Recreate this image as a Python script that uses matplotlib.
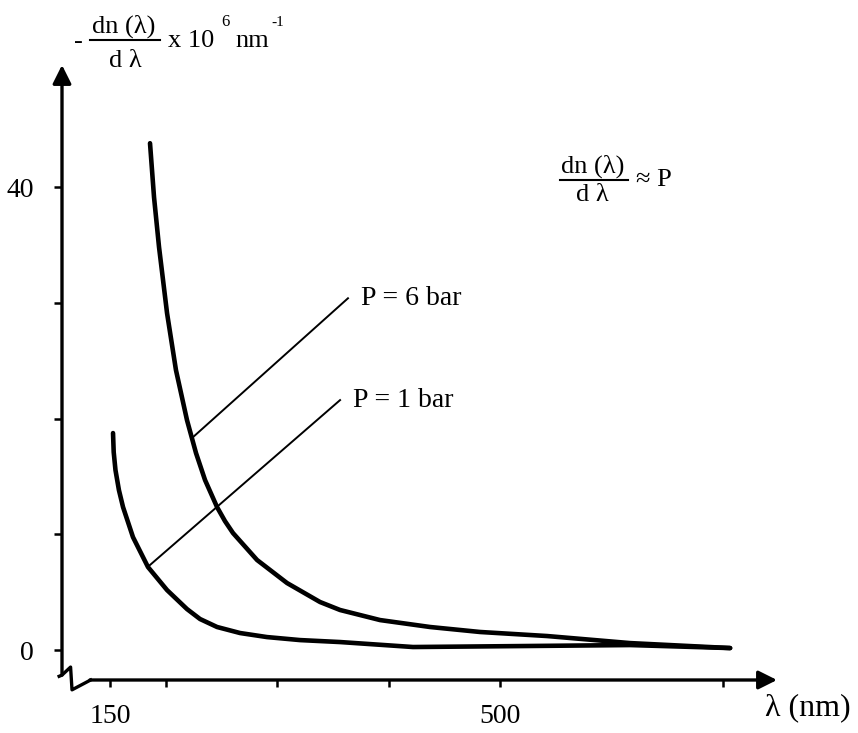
"""Dispersion dn/dlambda vs wavelength for two pressures (scan recreation)."""

import matplotlib

matplotlib.use("Agg")
import matplotlib.pyplot as plt

# wavelength (nm) and -dn/dlambda x 1e6 (nm^-1)
wl_6bar = [185.9, 189.5, 194.0, 201.2, 209.2, 219.1, 227.2, 235.3, 246.1,
           253.2, 260.4, 282.0, 308.9, 338.5, 356.5, 392.4, 437.3, 482.1,
           542.3, 616.8, 706.6]
dn_6bar = [43.80, 39.14, 34.82, 29.11, 24.19, 19.87, 17.02, 14.69, 12.35,
           11.14, 10.11, 7.78, 5.79, 4.15, 3.46, 2.59, 1.99, 1.56, 1.21,
           0.60, 0.17]

wl_1bar = [152.7, 153.3, 154.9, 158.0, 161.7, 170.6, 184.1, 201.2, 219.1,
           230.8, 246.1, 266.7, 290.9, 320.6, 356.5, 422.0, 527.0, 616.8,
           706.6]
dn_1bar = [18.75, 17.11, 15.55, 13.82, 12.35, 9.76, 7.17, 5.18, 3.54, 2.68,
           1.99, 1.47, 1.12, 0.86, 0.69, 0.26, 0.35, 0.43, 0.17]

x_ticks = [150, 200, 300, 400, 500, 700]
x_ticklabels = ["150", "", "", "", "500", ""]
y_ticks = [0, 10, 20, 30, 40]
y_ticklabels = ["0", "", "", "", "40"]

# leader lines: point on curve -> label anchor
label_6bar = "P = 6 bar"
label_1bar = "P = 1 bar"
leader_6bar = [(224.5, 18.4), (363.6, 30.4)]
leader_1bar = [(184.1, 7.2), (356.5, 21.6)]

W, H = 858, 733
SERIF = ["Liberation Serif", "DejaVu Serif"]
plt.rcParams["font.family"] = SERIF


def fpx(x, y):
    """pixel position (from top-left) -> figure fraction"""
    return x / W, 1 - y / H


fig = plt.figure(figsize=(W / 100, H / 100), dpi=100)
ax = fig.add_axes([62 / W, 53 / H, 715 / W, 615 / H])
ax.set_xlim(106.9, 748.7)
ax.set_ylim(-2.59, 50.56)
for s in ax.spines.values():
    s.set_visible(False)

curve_kw = dict(color="black", lw=3.3, solid_capstyle="round",
                solid_joinstyle="round")
ax.plot(wl_6bar, dn_6bar, **curve_kw)
ax.plot(wl_1bar, dn_1bar, **curve_kw)

for (p0, p1), lab in ((leader_6bar, label_6bar), (leader_1bar, label_1bar)):
    ax.plot([p0[0], p1[0]], [p0[1], p1[1]], color="black", lw=1.4)
    ax.text(p1[0] + 12, p1[1], lab, fontsize=20, va="center", ha="left")

# axes with arrows and the break at the origin
ax.annotate("", xy=(0, 1), xytext=(0, 0.008), xycoords="axes fraction",
            arrowprops=dict(arrowstyle="-|>", lw=2.4, color="black",
                            mutation_scale=28, shrinkA=0, shrinkB=0))
ax.annotate("", xy=(1, 0), xytext=(0.039, 0.0), xycoords="axes fraction",
            arrowprops=dict(arrowstyle="-|>", lw=2.4, color="black",
                            mutation_scale=28, shrinkA=0, shrinkB=0))
ax.plot([-0.004, 0.0, 0.012, 0.014, 0.040], [0.006, 0.008, 0.021, -0.016, 0.0],
        transform=ax.transAxes, color="black", lw=2.4, clip_on=False)

ax.set_xticks(x_ticks)
ax.set_xticklabels(x_ticklabels)
ax.set_yticks(y_ticks)
ax.set_yticklabels(y_ticklabels)
ax.tick_params(axis="both", direction="out", width=1.8, labelsize=20)
ax.tick_params(axis="y", length=6, pad=14)
ax.tick_params(axis="x", length=5, pad=12)

# y axis label drawn as a stacked fraction
fig.text(*fpx(78, 42), "-", fontsize=19, ha="center", va="center")
fig.text(*fpx(124, 26), "dn (λ)", fontsize=19, ha="center", va="center")
fig.add_artist(plt.Line2D([90 / W, 160 / W], [1 - 40 / H, 1 - 40 / H],
                          color="black", lw=1.5))
fig.text(*fpx(125, 61), "d λ", fontsize=19, ha="center", va="center")
fig.text(*fpx(168, 47), "x 10", fontsize=19, ha="left", va="baseline")
fig.text(*fpx(221, 26), "6", fontsize=12, ha="left", va="baseline")
fig.text(*fpx(235, 47), "nm", fontsize=19, ha="left", va="baseline")
fig.text(*fpx(271, 26), "-1", fontsize=11, ha="left", va="baseline")

# relation in the top right
fig.text(*fpx(593, 166), "dn (λ)", fontsize=19, ha="center", va="center")
fig.add_artist(plt.Line2D([560 / W, 628 / W], [1 - 180 / H, 1 - 180 / H],
                          color="black", lw=1.5))
fig.text(*fpx(592, 195), "d λ", fontsize=19, ha="center", va="center")
fig.text(*fpx(636, 180), "≈ P", fontsize=19, ha="left", va="center")

fig.text(*fpx(765, 708), "λ (nm)", fontsize=23, ha="left", va="center")

fig.savefig("out.png", dpi=100)
